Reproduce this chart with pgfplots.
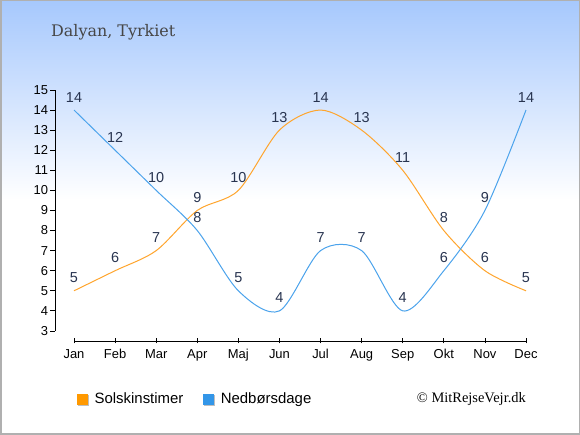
\documentclass[border=0pt]{standalone}
\usepackage{pgfplots}
\pgfplotsset{compat=1.18}
\usepackage{fontspec}
\setmainfont{Liberation Sans}
\newfontfamily\titlefont{DejaVu Serif}
\newfontfamily\copyfont{Liberation Serif}
\definecolor{bgtop}{RGB}{166,200,253}
\definecolor{sunC}{RGB}{255,165,45}
\definecolor{rainC}{RGB}{75,163,236}
\definecolor{sunL}{RGB}{255,153,0}
\definecolor{rainL}{RGB}{51,150,232}
\definecolor{labC}{RGB}{40,52,80}
\definecolor{titleC}{RGB}{70,70,70}
\definecolor{frameC}{RGB}{176,176,176}
\begin{document}
\begin{tikzpicture}[x=1bp,y=1bp]
\fill[white] (0,0) rectangle (580,435);
\shade[top color=bgtop, bottom color=white] (0,235) rectangle (580,435);
\draw[frameC, line width=1.5bp] (0.75,0.75) rectangle (579.25,434.25);
\node[anchor=west, text=titleC, font=\titlefont\fontsize{16}{19}\selectfont, inner sep=0pt] at (51,403) {Dalyan, Tyrkiet};
\node[anchor=east, text=black, font=\copyfont\fontsize{14.5}{17}\selectfont, inner sep=0pt] at (526,36) {© MitRejseVejr.dk};
\begin{axis}[
  at={(55.1bp,94bp)}, anchor=south west,
  x=41.09bp, y=20.083bp,
  xmin=-0.46, xmax=11.05, ymin=2.5, ymax=15,
  axis lines*=left, axis line style={draw=none},
  clip=false,
  /pgf/number format/assume math mode=true,
  xtick={0,...,11},
  xticklabels={Jan,Feb,Mar,Apr,Maj,Jun,Jul,Aug,Sep,Okt,Nov,Dec},
  ytick={3,...,15},
  tick align=outside, major tick length=5bp,
  tick style={black, line width=0.8bp},
  xtick style={yshift=2.5bp},
  ticklabel style={font=\fontsize{13}{15}\selectfont, text=black},
  yticklabel style={xshift=1.5bp},
  every node near coord/.append style={anchor=center, yshift=13bp, font=\fontsize{14.5}{16}\selectfont, text=labC},
  legend columns=2,
  legend style={at={(0.0463,-0.231)}, anchor=west, draw=none, fill=none, inner sep=0pt,
    font=\fontsize{15}{17}\selectfont,
    /tikz/every odd column/.append style={column sep=4bp},
    /tikz/every even column/.append style={column sep=18bp}},
  legend image code/.code={
    \fill[black!25] (1bp,-6bp) rectangle (11bp,4bp);
    \fill[#1] (0bp,-5bp) rectangle (10bp,5bp);},
]
\draw[black, line width=0.8bp] (axis cs:-0.46,3) -- (axis cs:-0.46,15);
\draw[black, line width=0.8bp] (axis cs:0,2.5) -- (axis cs:11,2.5);
\addplot[sunC, line width=1bp, smooth, nodes near coords, forget plot] coordinates {
(0,5) (1,6) (2,7) (3,9) (4,10) (5,13) (6,14) (7,13) (8,11) (9,8) (10,6) (11,5)};
\addplot[rainC, line width=1bp, smooth, nodes near coords, forget plot] coordinates {
(0,14) (1,12) (2,10) (3,8) (4,5) (5,4) (6,7) (7,7) (8,4) (9,6) (10,9) (11,14)};
\addlegendimage{sunL}
\addlegendentry{Solskinstimer}
\addlegendimage{rainL}
\addlegendentry{Nedbørsdage}
\end{axis}
\end{tikzpicture}
\end{document}
